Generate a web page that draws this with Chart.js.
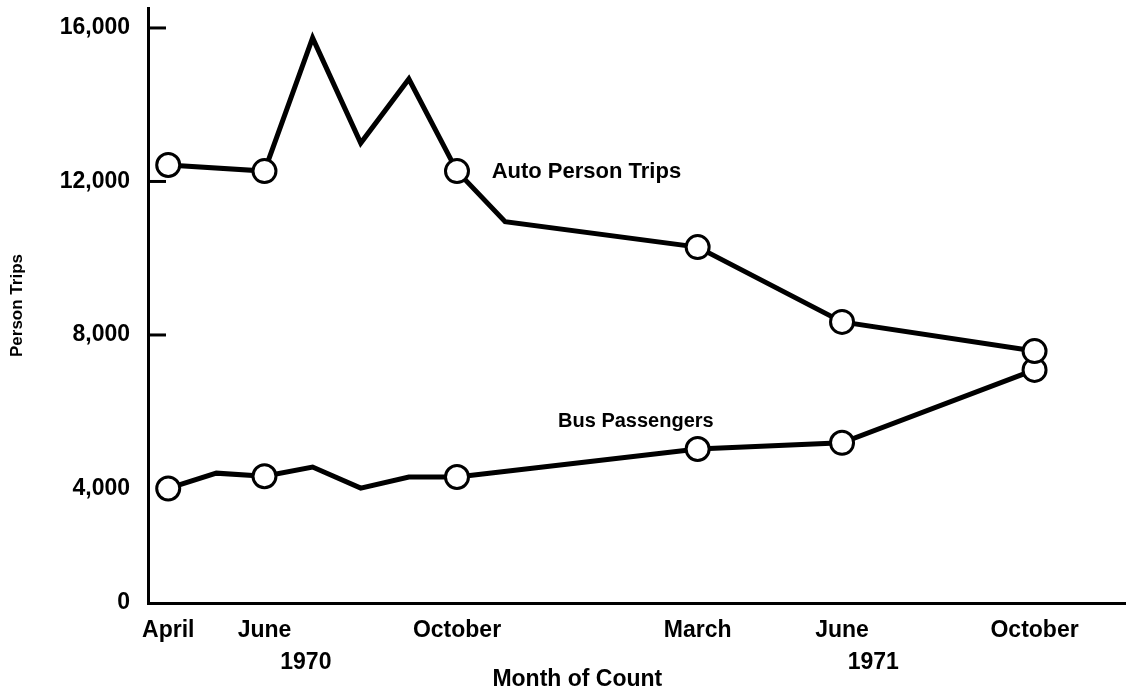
<!DOCTYPE html>
<html lang="en">
<head>
  <meta charset="UTF-8" />
  <title>Person Trips by Month of Count</title>
  <script src="https://cdn.jsdelivr.net/npm/chart.js"></script>
  <style>
    body {
      margin: 0;
      background: #fff;
    }
    #chart-container {
      width: 1126px;
      height: 694px;
      position: relative;
    }
  </style>
</head>
<body>

  <div id="chart-container">
    <canvas id="tripsChart"></canvas>
  </div>

  <script>
    // months counted from April 1970 (0) to October 1971 (18)
    const autoMonths = [0, 2, 3, 4, 5, 6, 7, 11, 14, 18];
    const autoTrips = [12430, 12270, 15740, 13000, 14670, 12270, 10950, 10290, 8340, 7580];
    const busMonths = [0, 1, 2, 3, 4, 5, 6, 11, 14, 18];
    const busPassengers = [4000, 4400, 4320, 4560, 4010, 4300, 4300, 5030, 5190, 7090];
    // counts that got a circle on the original
    const countMonths = [0, 2, 6, 11, 14, 18];

    const monthTicks = [0, 2, 6, 11, 14, 18];
    const monthLabels = ['April', 'June', 'October', 'March', 'June', 'October'];
    const yearLabels = ['1970', '1971'];
    const yTicks = [0, 4000, 8000, 12000, 16000];

    // the printed axis is squeezed below 4,000, so the "0" sits on the axis floor
    const axisFloor = 1016;
    const FONT = '"Liberation Sans", Arial, sans-serif';

    const notes = {
      id: 'notes',
      afterDraw(chart) {
        const { ctx, scales: { x, y } } = chart;
        ctx.save();
        ctx.strokeStyle = '#000';
        ctx.lineWidth = 3;
        yTicks.filter(v => v >= 8000).forEach(v => {
          const py = y.getPixelForValue(v);
          ctx.beginPath();
          ctx.moveTo(x.left, py);
          ctx.lineTo(x.left + 18, py);
          ctx.stroke();
        });

        ctx.fillStyle = '#000';
        ctx.textBaseline = 'middle';
        ctx.textAlign = 'center';
        ctx.font = 'bold 23px ' + FONT;
        ctx.fillText(yearLabels[0], x.getPixelForValue(2.86), 663);
        ctx.fillText(yearLabels[1], x.getPixelForValue(14.65), 663);
        // axis title sits left of centre on the original
        ctx.fillText('Month of Count', x.getPixelForValue(8.5), 680);

        ctx.textAlign = 'left';
        ctx.font = 'bold 22px ' + FONT;
        ctx.fillText('Auto Person Trips', x.getPixelForValue(6.72), y.getPixelForValue(12250));
        ctx.font = 'bold 20px ' + FONT;
        ctx.fillText('Bus Passengers', x.getPixelForValue(8.1), y.getPixelForValue(5740));
        ctx.restore();
      }
    };

    function series(months, values) {
      return {
        data: months.map((m, i) => ({ x: m, y: values[i] })),
        borderColor: '#000',
        borderWidth: 5,
        borderJoinStyle: 'miter',
        tension: 0,
        clip: false,
        pointRadius: months.map(m => countMonths.includes(m) ? 11.5 : 0),
        pointHoverRadius: months.map(m => countMonths.includes(m) ? 11.5 : 0),
        pointBackgroundColor: '#fff',
        pointBorderColor: '#000',
        pointBorderWidth: 3
      };
    }

    const ctx = document.getElementById('tripsChart').getContext('2d');
    const chart = new Chart(ctx, {
      type: 'line',
      data: {
        datasets: [
          { label: 'Auto Person Trips', ...series(autoMonths, autoTrips) },
          { label: 'Bus Passengers', ...series(busMonths, busPassengers) }
        ]
      },
      options: {
        responsive: true,
        maintainAspectRatio: false,
        animation: false,
        devicePixelRatio: 1,
        layout: { autoPadding: false, padding: { top: 8, right: 0, left: 0, bottom: 0 } },
        plugins: {
          legend: { display: false },
          tooltip: { enabled: false }
        },
        scales: {
          x: {
            type: 'linear',
            min: -0.42,
            max: 19.9,
            grid: { display: false, drawTicks: false },
            border: { color: '#000', width: 3 },
            afterBuildTicks: axis => {
              axis.ticks = monthTicks.map(v => ({ value: v }));
            },
            afterFit: axis => {
              axis.height = 91;
              axis.paddingLeft = 0;
              axis.paddingRight = 0;
            },
            ticks: {
              autoSkip: false,
              maxRotation: 0,
              padding: 14,
              color: '#000',
              font: { family: FONT, size: 23, weight: 'bold' },
              callback: v => monthLabels[monthTicks.indexOf(v)] ?? ''
            }
          },
          y: {
            min: axisFloor,
            max: 16520,
            grid: { display: false, drawTicks: false },
            border: { color: '#000', width: 3 },
            afterBuildTicks: axis => {
              axis.ticks = yTicks.map(v => ({ value: Math.max(v, axisFloor) }));
            },
            afterFit: axis => {
              axis.width = 148;
              axis.paddingTop = 0;
              axis.paddingBottom = 0;
            },
            ticks: {
              padding: 18,
              color: '#000',
              font: { family: FONT, size: 23, weight: 'bold' },
              callback: v => v === axisFloor ? '0' : v.toLocaleString('en-US')
            },
            title: {
              display: true,
              text: 'Person Trips',
              color: '#000',
              font: { family: FONT, size: 17, weight: 'bold' },
              padding: { top: 7, bottom: 0 }
            }
          }
        }
      },
      plugins: [notes]
    });
  </script>

</body>
</html>
